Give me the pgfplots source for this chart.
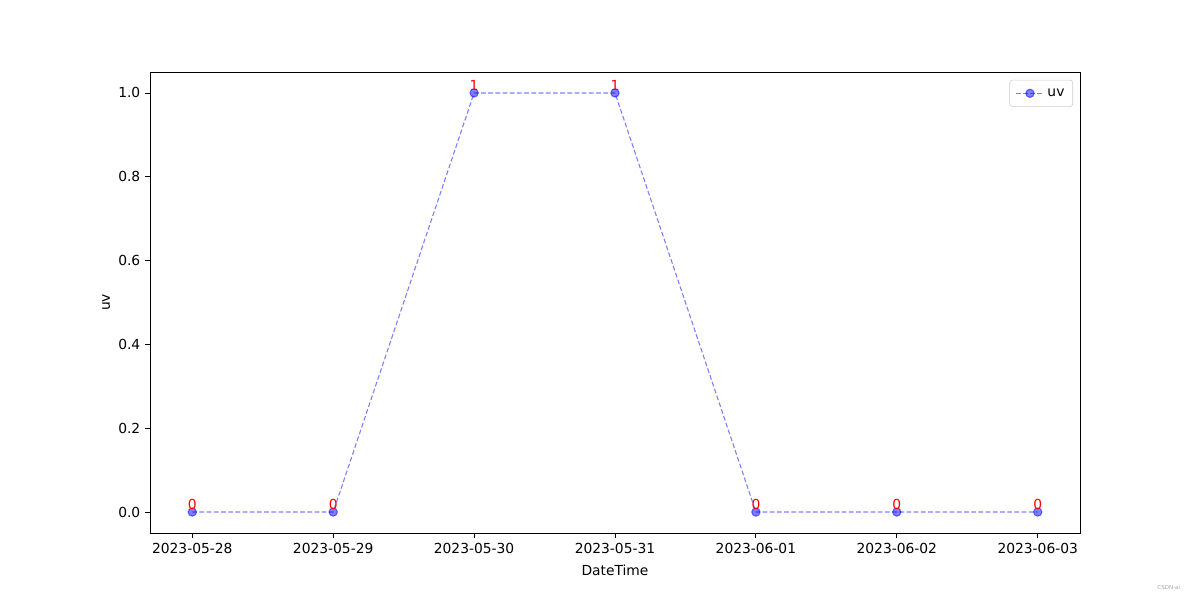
\documentclass[border=0pt]{standalone}
\usepackage{fontspec}
\setmainfont{DejaVu Sans}
\usepackage{pgfplots}
\pgfplotsset{compat=1.18}
\begin{document}
\begin{tikzpicture}[x=1in,y=1in]
\useasboundingbox (0,0) rectangle (12,6);
\begin{axis}[
  at={(1.5in,0.67in)}, anchor=south west,
  scale only axis, width=9.3in, height=4.61in,
  xmin=-0.3, xmax=6.3, ymin=-0.05, ymax=1.05,
  xtick={0,1,2,3,4,5,6},
  xticklabels={2023-05-28,2023-05-29,2023-05-30,2023-05-31,2023-06-01,2023-06-02,2023-06-03},
  ytick={0,0.2,0.4,0.6,0.8,1.0},
  yticklabel style={/pgf/number format/.cd,fixed,fixed zerofill,precision=1},
  /pgf/number format/assume math mode=true,
  tick align=outside, tick pos=left,
  major tick length=3.5pt,
  tick style={black, line width=0.6pt},
  axis line style={line width=0.6pt},
  ticklabel style={font=\fontsize{10}{12}\selectfont},
  xlabel={DateTime}, ylabel={uv},
  label style={font=\fontsize{10}{12}\selectfont},
  xlabel style={yshift=-2pt},
  ylabel style={yshift=-1pt},
  legend style={font=\fontsize{10}{12}\selectfont, draw=black!20, rounded corners=2pt, inner xsep=4pt, inner ysep=4pt, at={(0.9925,0.983)}, anchor=north east},
  legend cell align=left,
  legend image code/.code={
    \draw[#1, mark=none] (0cm,0cm) -- (0.72cm,0cm);
    \draw[#1, solid] plot coordinates {(0.36cm,0cm)};
  },
]
\addplot[blue, opacity=0.5, line width=0.8pt, dash pattern=on 3.4pt off 1.8pt,
  mark=*, mark size=3pt, mark options={solid, fill=blue},
  nodes near coords, point meta=explicit symbolic,
  every node near coord/.append style={text=red, opacity=1, font=\fontsize{10}{12}\selectfont, anchor=base, inner sep=0pt, yshift=2pt},
] table[meta=lab] {
x y lab
0 0 0
1 0 0
2 1 1
3 1 1
4 0 0
5 0 0
6 0 0
};
\addlegendentry{uv}
\end{axis}
\node[anchor=south east, text=black!35, font=\fontsize{4}{5}\selectfont] at (11.85,0.06) {CSDN-ai};
\end{tikzpicture}
\end{document}
